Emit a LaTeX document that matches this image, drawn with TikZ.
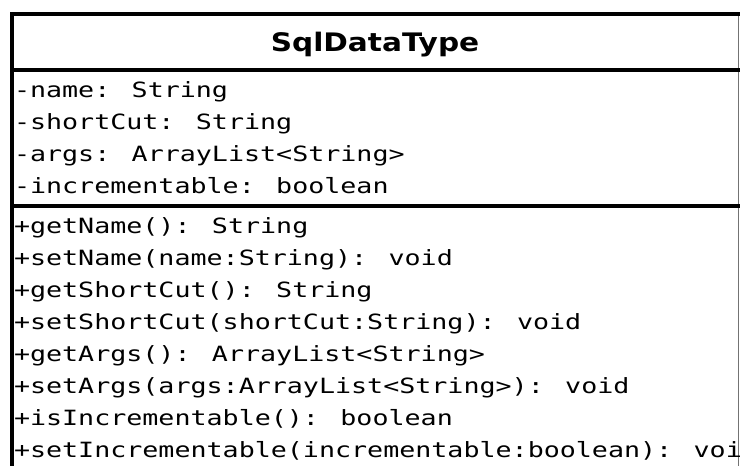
\documentclass[tikz,border=0pt]{standalone}
\usepackage{fontspec}
% wide, low member font and slightly widened class-name font
\newfontfamily\membfont[FakeStretch=1.27]{DejaVu Sans Mono}
\newfontfamily\headfont[FakeStretch=1.16]{DejaVu Sans Bold}
\begin{document}
\begin{tikzpicture}[x=1pt,y=-1pt,
  frame/.style={line width=4pt,black},
  edge/.style={line width=1.5pt,black!55},
  member/.style={anchor=base west,inner sep=0pt,outer sep=0pt,
    font=\membfont\fontsize{21}{32}\selectfont},
  classname/.style={anchor=base,inner sep=0pt,
    font=\headfont\fontsize{25.5}{34}\selectfont}]
  \useasboundingbox (0,0) rectangle (740,466);
  \clip (0,0) rectangle (740,466);
  \fill[white] (0,0) rectangle (740,466);
  % class frame and compartment separators
  \draw[edge] (738.5,14) -- (738.5,470);
  \draw[frame] (10,14) -- (742,14);
  \draw[frame] (12,12) -- (12,470);
  \draw[frame] (10,70) -- (742,70);
  \draw[frame] (10,206) -- (742,206);
  % class name
  \node[classname] (title) at (375,51) {SqlDataType};
  % attributes
  \node[member] (a1) at (14,97)  {-name: String};
  \node[member] (a2) at (14,129) {-shortCut: String};
  \node[member] (a3) at (14,161) {-args: ArrayList<String>};
  \node[member] (a4) at (14,193) {-incrementable: boolean};
  % operations
  \node[member] (m1) at (14,233) {+getName(): String};
  \node[member] (m2) at (14,265) {+setName(name:String): void};
  \node[member] (m3) at (14,297) {+getShortCut(): String};
  \node[member] (m4) at (14,329) {+setShortCut(shortCut:String): void};
  \node[member] (m5) at (14,361) {+getArgs(): ArrayList<String>};
  \node[member] (m6) at (14,393) {+setArgs(args:ArrayList<String>): void};
  \node[member] (m7) at (14,425) {+isIncrementable(): boolean};
  \node[member] (m8) at (14,457) {+setIncrementable(incrementable:boolean): voi};
\end{tikzpicture}
\end{document}
